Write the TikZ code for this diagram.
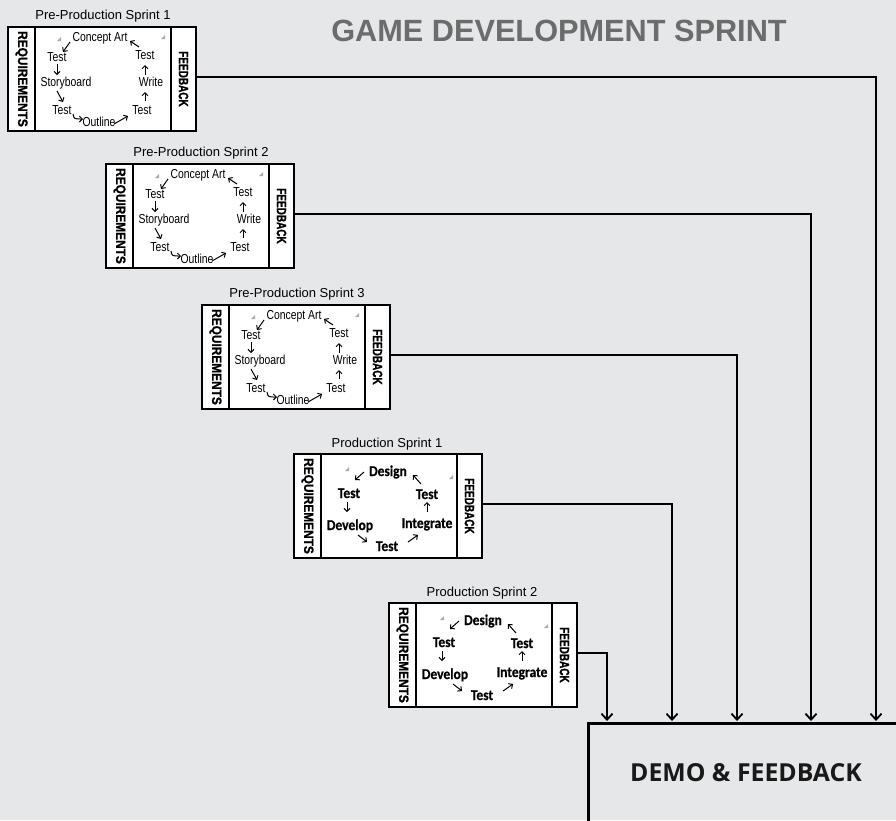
\documentclass[tikz,border=0pt]{standalone}
\usepackage{fontspec}
\setmainfont{Liberation Sans}
\newfontfamily\narrowfont[FakeStretch=0.8]{Liberation Sans}
\newfontfamily\reqfont[FakeStretch=0.88,FakeBold=1.2]{Liberation Sans Bold}
\newfontfamily\fbfont[FakeStretch=0.74,FakeBold=1.2]{Liberation Sans Bold}
\newfontfamily\prodfont[FakeStretch=0.9,FakeBold=0.6]{Carlito Bold}
\newfontfamily\demofont{Open Sans Bold}
\usetikzlibrary{arrows.meta,calc}
\definecolor{bg}{HTML}{E6E7E8}
\definecolor{titlegray}{HTML}{6B6D6C}
\definecolor{markgray}{HTML}{A8A9AA}
\tikzset{
  colbox/.style={draw, line width=2.5pt, fill=white, inner sep=0pt},
  reqlabel/.style={colbox, rotate=-90, minimum width=104pt, minimum height=27pt,
    font=\reqfont\fontsize{13.5}{13.5}\selectfont},
  fblabel/.style={colbox, rotate=-90, minimum width=104pt, minimum height=25pt,
    font=\fbfont\fontsize{13.5}{13.5}\selectfont},
  midbox/.style={colbox, minimum width=136pt, minimum height=104pt},
  ptext/.style={font=\narrowfont\fontsize{13}{13}\selectfont, anchor=base, yshift=-4.65pt, inner sep=0pt},
  prtext/.style={font=\prodfont\fontsize{15}{15}\selectfont, anchor=base, yshift=-5pt, inner sep=0pt},
  sprinttitle/.style={font=\fontsize{13}{13}\selectfont, anchor=base, yshift=-4.6pt, inner sep=0pt},
  inarr/.style={-{Straight Barb[length=3pt,width=6pt]}, line width=1pt},
  cornermark/.style={fill=markgray},
  conn/.style={-{Straight Barb[length=6pt,width=11pt]}, line width=1.8pt},
  sprintframe/.pic={
    \node[reqlabel] (-req) at (13.5,52) {REQUIREMENTS};
    \node[midbox] (-mid) at (95,52) {};
    \node[fblabel] (-fb) at (175.5,52) {FEEDBACK};
    \coordinate (-out) at (188,50);
  },
  preprod/.pic={
    \pic {sprintframe};
    \node[sprinttitle] (-title) at (95,-12) {#1};
    \node[ptext] (-ca) at (92,10) {Concept Art};
    \node[ptext] (-t1) at (49,30) {Test};
    \node[ptext] (-sb) at (58,55) {Storyboard};
    \node[ptext] (-t2) at (54,83) {Test};
    \node[ptext] (-ol) at (91,95) {Outline};
    \node[ptext] (-t3) at (134,83) {Test};
    \node[ptext] (-wr) at (143,55) {Write};
    \node[ptext] (-t4) at (137,28) {Test};
    \path[cornermark] (49,14) -- (53,14) -- (53,10) -- cycle;
    \path[cornermark] (153,12) -- (157,12) -- (157,8) -- cycle;
    \draw[inarr] (62,15) -- (55,25);
    \draw[inarr] (49,37) -- (49,48);
    \draw[inarr] (49,64) -- (55,75);
    \draw[inarr] (65,87) .. controls (66,92) .. (75,92);
    \draw[inarr] (106,97) -- (120,89);
    \draw[inarr] (137,74) -- (137,65);
    \draw[inarr] (137,48) -- (137,38);
    \draw[inarr] (131,20) -- (122,14);
  },
  prod/.pic={
    \pic {sprintframe};
    \node[sprinttitle] (-title) at (93,-11) {#1};
    \node[prtext] (-de) at (94,17) {Design};
    \node[prtext] (-tl) at (55,39) {Test};
    \node[prtext] (-dv) at (56,71) {Develop};
    \node[prtext] (-tb) at (93,92) {Test};
    \node[prtext] (-in) at (133,69) {Integrate};
    \node[prtext] (-tr) at (133,40) {Test};
    \path[cornermark] (51,17) -- (55,17) -- (55,13) -- cycle;
    \path[cornermark] (155,25) -- (159,25) -- (159,21) -- cycle;
    \draw[inarr] (70,18) -- (61,26);
    \draw[inarr] (53,48) -- (53,58);
    \draw[inarr] (64,81) -- (73,88);
    \draw[inarr] (114,88) -- (124,81);
    \draw[inarr] (133,58) -- (133,48);
    \draw[inarr] (127,30) -- (119,21);
  }
}
\begin{document}
\begin{tikzpicture}[x=1pt,y=-1pt]
\useasboundingbox (0,0) rectangle (896,820);
\clip (0,0) rectangle (896,820);
\fill[bg] (0,0) rectangle (896,820);

\node[font=\bfseries\fontsize{30.7}{30.7}\selectfont, text=titlegray, anchor=base, yshift=-11pt, inner sep=0pt]
  (title) at (559,30) {GAME DEVELOPMENT SPRINT};

\pic (s1) at (8,27) {preprod={Pre-Production Sprint 1}};
\pic (s2) at (106,164) {preprod={Pre-Production Sprint 2}};
\pic (s3) at (202,305) {preprod={Pre-Production Sprint 3}};
\pic (p1) at (294,454) {prod={Production Sprint 1}};
\pic (p2) at (389,603) {prod={Production Sprint 2}};

\node[draw, line width=2.5pt, anchor=north west, minimum width=340pt, minimum height=130pt, inner sep=0pt]
  (demo) at (587,722) {};
\node[font=\demofont\fontsize{24.8}{24.8}\selectfont, text=black!90, anchor=base, yshift=-8.85pt, inner sep=0pt]
  (demotext) at (746,773) {DEMO \& FEEDBACK};

\coordinate (d1) at (876,721);
\coordinate (d2) at (811,721);
\coordinate (d3) at (737,721);
\coordinate (d4) at (672,721);
\coordinate (d5) at (607,721);

\draw[conn] (s1-out) -| (d1);
\draw[conn] (s2-out) -| (d2);
\draw[conn] (s3-out) -| (d3);
\draw[conn] (p1-out) -| (d4);
\draw[conn] (p2-out) -| (d5);
\end{tikzpicture}
\end{document}
